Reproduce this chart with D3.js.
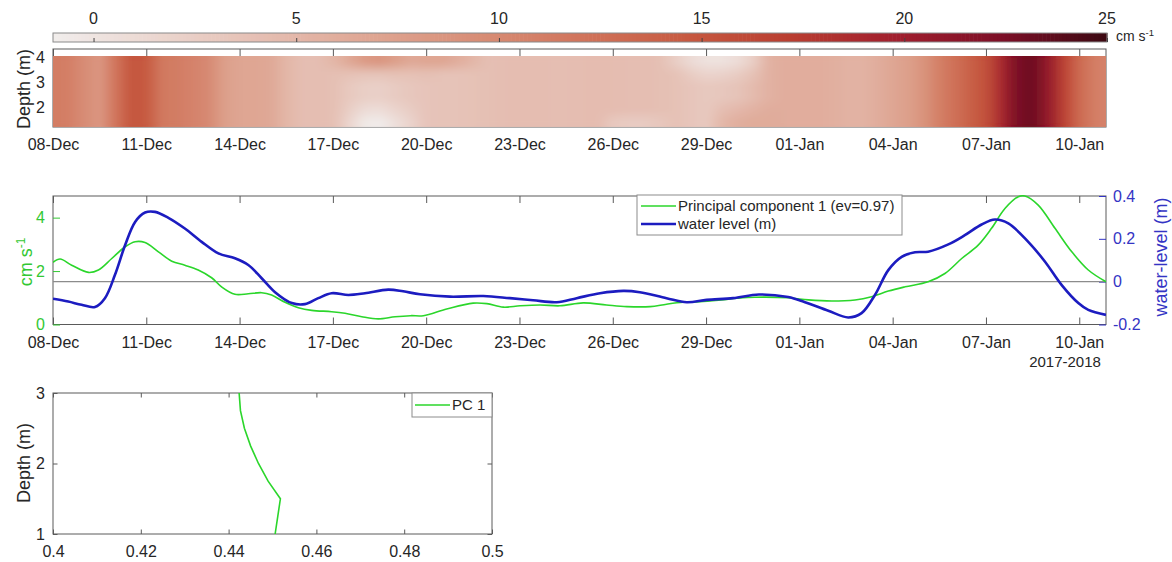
<!DOCTYPE html>
<html>
<head>
<meta charset="utf-8">
<script src="https://cdn.jsdelivr.net/npm/d3@7"></script>
<style>
  body { margin: 0; background: #fff; }
  svg { display: block; font-family: "Liberation Sans", Arial, Helvetica, sans-serif; }
</style>
</head>
<body>
<svg id="fig" width="1172" height="562"></svg>
<script>
// ---------------- data ----------------
// time axis: days since 08-Dec-2017 00:00 UTC
const startDate = Date.UTC(2017, 11, 8);
const endDay = 33.86;
const dateTicks = ["2017-12-08", "2017-12-11", "2017-12-14", "2017-12-17", "2017-12-20",
  "2017-12-23", "2017-12-26", "2017-12-29", "2018-01-01", "2018-01-04", "2018-01-07", "2018-01-10"];

// current speed (cm s-1), half-day grid starting at day 0, one row per depth bin
const gridStep = 0.5;
const depthBins = [1.44, 1.91, 2.39, 2.86, 3.34, 3.81];
const speedBin1 = [11.2, 11.0, 9.5, 8.4, 12.0, 15.0, 14.5, 11.5, 11.2, 10.5,
  9.8, 7.5, 6.8, 6.8, 6.5, 5.0, 4.2, 4.2, 4.0, 1.8,
  -0.5, -0.8, 0.6, 2.0, 3.5, 3.7, 3.7, 3.8, 4.0, 4.2,
  4.3, 4.3, 4.2, 4.2, 4.3, 4.4, 3.0, 2.8, 2.8, 3.2,
  3.8, 3.4, 3.0, 5.0, 5.8, 6.2, 6.2, 6.0, 6.0, 6.0,
  5.8, 5.5, 5.4, 6.0, 6.8, 7.5, 8.9, 11.0, 12.5, 14.0,
  15.5, 19.0, 22.5, 23.0, 20.5, 16.5, 13.0, 11.0, 10.5];
const speedBin2 = [11.2, 11.0, 9.5, 8.4, 12.0, 15.0, 14.5, 11.5, 11.2, 10.5,
  9.8, 7.5, 6.8, 6.8, 6.5, 5.0, 4.2, 4.2, 4.0, 2.5,
  1.0, 0.8, 1.8, 2.7, 3.5, 3.7, 3.7, 3.8, 4.0, 4.2,
  4.3, 4.3, 4.2, 4.2, 4.3, 4.4, 4.3, 4.2, 4.2, 4.0,
  3.8, 3.4, 3.0, 4.2, 4.8, 5.5, 6.0, 6.0, 6.0, 6.0,
  5.8, 5.5, 5.4, 6.0, 6.8, 7.5, 8.9, 11.0, 12.5, 14.0,
  15.5, 19.0, 22.5, 23.0, 20.5, 16.5, 13.0, 11.0, 10.5];
const speedBin3 = [11.2, 11.0, 9.5, 8.4, 12.0, 15.0, 14.5, 11.5, 11.2, 10.5,
  9.8, 7.5, 6.8, 6.8, 6.5, 5.0, 4.2, 4.2, 4.0, 3.0,
  2.4, 2.2, 2.8, 3.2, 3.5, 3.7, 3.7, 3.8, 4.0, 4.2,
  4.3, 4.3, 4.2, 4.2, 4.3, 4.4, 4.3, 4.2, 4.2, 4.0,
  3.8, 3.4, 3.0, 3.2, 3.6, 4.5, 5.5, 6.0, 6.0, 6.0,
  5.8, 5.5, 5.4, 6.0, 6.8, 7.5, 8.9, 11.0, 12.5, 14.0,
  15.5, 19.0, 22.5, 23.0, 20.5, 16.5, 13.0, 11.0, 10.5];
const speedBin4 = [11.2, 11.0, 9.5, 8.4, 12.0, 15.0, 14.5, 11.5, 11.2, 10.5,
  9.8, 7.5, 6.8, 6.8, 6.5, 5.0, 4.2, 4.2, 4.0, 3.0,
  2.4, 2.2, 2.8, 3.2, 3.5, 3.7, 3.7, 3.8, 4.0, 4.2,
  4.3, 4.3, 4.2, 4.2, 4.3, 4.4, 4.3, 4.2, 4.2, 4.0,
  3.8, 3.4, 3.0, 3.2, 3.6, 4.5, 5.5, 6.0, 6.0, 6.0,
  5.8, 5.5, 5.4, 6.0, 6.8, 7.5, 8.9, 11.0, 12.5, 14.0,
  15.5, 19.0, 22.5, 23.0, 20.5, 16.5, 13.0, 11.0, 10.5];
const speedBin5 = [11.2, 11.0, 9.5, 8.4, 12.0, 15.0, 14.5, 11.5, 11.2, 10.5,
  9.8, 7.5, 6.8, 6.8, 6.5, 5.0, 4.2, 4.2, 4.0, 3.8,
  3.6, 3.6, 3.8, 3.8, 4.0, 3.7, 3.7, 3.8, 4.0, 4.2,
  4.3, 4.3, 4.2, 4.2, 4.3, 4.4, 4.3, 4.2, 4.2, 4.0,
  3.8, 2.6, 1.8, 2.0, 2.6, 3.8, 5.5, 6.0, 6.0, 6.0,
  5.8, 5.5, 5.4, 6.0, 6.8, 7.5, 8.9, 11.0, 12.5, 14.0,
  15.5, 19.0, 22.5, 23.0, 20.5, 16.5, 13.0, 11.0, 10.5];
const speedBin6 = [11.2, 11.0, 9.5, 8.4, 12.0, 15.0, 14.5, 11.5, 11.2, 10.5,
  9.8, 7.5, 6.8, 6.8, 6.5, 5.0, 4.2, 4.2, 5.0, 6.5,
  8.0, 8.5, 7.5, 6.5, 6.8, 6.8, 6.0, 5.0, 4.0, 4.2,
  4.3, 4.3, 4.2, 4.2, 4.3, 4.4, 4.3, 4.2, 4.2, 4.0,
  2.5, 1.0, 0.3, 0.3, 0.8, 2.5, 5.5, 6.0, 6.0, 6.0,
  5.8, 5.5, 5.4, 6.0, 6.8, 7.5, 8.9, 11.0, 12.5, 14.0,
  15.5, 19.0, 22.5, 23.0, 20.5, 16.5, 13.0, 11.0, 10.5];
const speedRows = [speedBin1, speedBin2, speedBin3, speedBin4, speedBin5, speedBin6];

// colour bar
const colorRange = [-1, 25];
const colorTicks = [0, 5, 10, 15, 20, 25];
const ampStops = ["#f1edec", "#ebd6cf", "#e5beb2", "#dfa693", "#d88e77", "#d1755c",
  "#c75a41", "#b93d30", "#a11f2e", "#7d0f27", "#3c0912"];

// principal component 1 amplitude (cm s-1)
const pcDays = [0, 0.23, 0.6, 1.14, 1.46, 1.89, 2.32, 2.64, 2.96, 3.39,
  3.82, 4.24, 4.67, 5.10, 5.42, 5.85, 6.28, 6.71, 7.03, 7.46,
  7.89, 8.32, 8.96, 9.39, 9.93, 10.46, 11.0, 11.5, 11.91, 12.66,
  13.51, 13.95, 14.48, 15.02, 15.66, 16.30, 17.05, 17.80, 18.45, 19.2,
  19.73, 20.27, 20.8, 21.5, 22.0, 22.57, 23.64, 24.29, 25.04, 25.79,
  26.32, 26.86, 27.40, 28.14, 28.68, 29.22, 29.75, 30.18, 30.61, 31.04,
  31.25, 31.68, 32.22, 32.76, 33.29, 33.86];
const pcValues = [2.33, 2.45, 2.22, 1.95, 2.04, 2.47, 2.91, 3.10, 3.07, 2.72,
  2.37, 2.22, 2.04, 1.75, 1.41, 1.13, 1.15, 1.19, 1.10, 0.83,
  0.63, 0.53, 0.48, 0.42, 0.29, 0.21, 0.29, 0.33, 0.33, 0.58,
  0.80, 0.78, 0.65, 0.70, 0.73, 0.70, 0.81, 0.73, 0.67, 0.67,
  0.76, 0.83, 0.85, 0.92, 0.98, 1.02, 1.00, 0.92, 0.88, 0.92,
  1.04, 1.25, 1.41, 1.60, 1.91, 2.47, 2.97, 3.60, 4.34, 4.78,
  4.81, 4.47, 3.60, 2.72, 2.04, 1.60];

// water level (m)
const wlDays = [0, 0.49, 0.92, 1.35, 1.67, 1.99, 2.32, 2.64, 2.96, 3.28,
  3.71, 4.24, 4.78, 5.32, 5.85, 6.28, 6.71, 7.14, 7.68, 8.10,
  8.53, 8.96, 9.50, 10.03, 10.78, 11.26, 11.8, 12.77, 13.84, 14.69,
  15.44, 16.2, 16.84, 17.59, 18.34, 18.87, 19.73, 20.38, 21.02, 21.87,
  22.7, 23.64, 24.18, 24.93, 25.57, 26.0, 26.43, 26.86, 27.29, 27.72,
  28.14, 28.79, 29.32, 29.86, 30.29, 30.72, 31.36, 31.9, 32.43, 32.97,
  33.29, 33.86];
const wlValues = [-0.080, -0.093, -0.108, -0.118, -0.077, 0.031, 0.171, 0.279, 0.323, 0.326,
  0.298, 0.248, 0.186, 0.132, 0.109, 0.078, 0.016, -0.049, -0.100, -0.105,
  -0.077, -0.054, -0.062, -0.054, -0.037, -0.045, -0.059, -0.070, -0.067, -0.077,
  -0.087, -0.096, -0.077, -0.054, -0.043, -0.049, -0.077, -0.096, -0.085, -0.077,
  -0.060, -0.072, -0.096, -0.136, -0.167, -0.147, -0.062, 0.054, 0.116, 0.137,
  0.140, 0.174, 0.217, 0.267, 0.290, 0.272, 0.186, 0.093, -0.015, -0.100,
  -0.132, -0.155];
const pcTicks = [0, 2, 4];
const wlTicks = [-0.2, 0, 0.2, 0.4];

// vertical structure of PC 1
const profileDepth = [1, 1.25, 1.5, 1.75, 2, 2.25, 2.5, 2.75, 3];
const profileValue = [0.4506, 0.4512, 0.4518, 0.4490, 0.4468, 0.4450, 0.4436, 0.4427, 0.4424];
const profileXTicks = [0.4, 0.42, 0.44, 0.46, 0.48, 0.5];
const profileYTicks = [1, 2, 3];

// ---------------- drawing ----------------
const AX = "#5a5a5a", TXT = "#262626";
const GREEN = "#2bd62b", BLUE = "#1c1cc0";
const GREEN_TXT = "#33c833", BLUE_TXT = "#3434c4";
const TICK_FS = 16, LABEL_FS = 18, LEG_FS = 15;

const svg = d3.select("#fig");
svg.append("rect").attr("width", 1172).attr("height", 562).attr("fill", "#fff");
const defs = svg.append("defs");

// soft blur for the speed raster; the sharp copy underneath keeps the edges opaque
const blur = defs.append("filter").attr("id", "soften")
  .attr("x", "-2%").attr("y", "-10%").attr("width", "104%").attr("height", "120%");
blur.append("feGaussianBlur").attr("in", "SourceGraphic").attr("stdDeviation", "4 2.5").attr("result", "b");
const merge = blur.append("feMerge");
merge.append("feMergeNode").attr("in", "SourceGraphic");
merge.append("feMergeNode").attr("in", "b");

const toDate = d => new Date(startDate + d * 864e5);
const x = d3.scaleUtc().domain([toDate(0), toDate(endDay)]).range([53, 1106]);
const tickDates = dateTicks.map(s => new Date(s + "T00:00:00Z"));
const fmtDate = d3.utcFormat("%d-%b");
const fmtNum = v => String(v);

function styleAxis(g, color, textColor) {
  g.select(".domain").remove();
  g.selectAll(".tick line").attr("stroke", color).attr("stroke-width", 1);
  g.selectAll(".tick text").attr("fill", textColor).attr("font-size", TICK_FS)
    .attr("font-family", "Liberation Sans, Arial, sans-serif");
}

// ===== colour bar =====
const cScale = d3.scaleLinear()
  .domain(ampStops.map((c, i) => colorRange[0] + (colorRange[1] - colorRange[0]) * i / (ampStops.length - 1)))
  .range(ampStops).interpolate(d3.interpolateRgb).clamp(true);
const cb = d3.scaleLinear().domain(colorRange).range([53, 1107]);
const cbTop = 33, cbBot = 42;
const cbSteps = d3.range(colorRange[0], colorRange[1], 0.1);
svg.append("g").selectAll("rect").data(cbSteps).join("rect")
  .attr("x", v => cb(v)).attr("width", v => cb(v + 0.1) - cb(v) + 0.6)
  .attr("y", cbTop).attr("height", cbBot - cbTop)
  .attr("fill", v => cScale(v + 0.05));
svg.append("rect").attr("x", cb(colorRange[0])).attr("y", cbTop)
  .attr("width", cb(colorRange[1]) - cb(colorRange[0])).attr("height", cbBot - cbTop)
  .attr("fill", "none").attr("stroke", "#8a8a8a").attr("stroke-width", 1);
const cbAxis = svg.append("g").attr("transform", `translate(0,${cbBot})`)
  .call(d3.axisTop(cb).tickValues(colorTicks).tickSizeInner(4).tickSizeOuter(0).tickFormat(() => ""));
styleAxis(cbAxis, "#444", TXT);
svg.append("g").selectAll("text").data(colorTicks).join("text")
  .attr("x", v => cb(v)).attr("y", 24).attr("text-anchor", "middle")
  .attr("font-size", TICK_FS).attr("fill", TXT).text(fmtNum);
const cbUnit = svg.append("text").attr("x", 1116).attr("y", 41).attr("font-size", 14).attr("fill", TXT);
cbUnit.append("tspan").text("cm s");
cbUnit.append("tspan").attr("dy", -5).attr("font-size", 9.5).text("-1");

// ===== panel 1: speed vs time and depth =====
const yDep = d3.scaleLinear().domain([1.2, 4.32]).range([127, 49]);
const p1 = svg.append("g");
// axes layer sits below the image
p1.append("rect").attr("x", 53).attr("y", yDep(4.32)).attr("width", 1106 - 53)
  .attr("height", yDep(1.2) - yDep(4.32)).attr("fill", "none").attr("stroke", AX);
const p1Top = p1.append("g").attr("transform", `translate(0,${yDep(4.32)})`)
  .call(d3.axisTop(x).tickValues(tickDates).tickSizeInner(-7).tickSizeOuter(0).tickFormat(() => ""));
styleAxis(p1Top, AX, TXT);

// speed field rendered as a smoothly scaled raster
const nT = speedBin1.length, nZ = depthBins.length;
const canvas = document.createElement("canvas");
canvas.width = nT; canvas.height = nZ;
const ctx = canvas.getContext("2d");
speedRows.forEach((row, j) => {
  row.forEach((v, i) => {
    ctx.fillStyle = cScale(v);
    ctx.fillRect(i, nZ - 1 - j, 1, 1);
  });
});
const dz = depthBins[1] - depthBins[0];
const imgTop = depthBins[nZ - 1] + dz / 2, imgBot = depthBins[0] - dz / 2;
defs.append("clipPath").attr("id", "clipSpeed").append("rect")
  .attr("x", 53).attr("y", yDep(imgTop)).attr("width", 1106 - 53).attr("height", yDep(imgBot) - yDep(imgTop));
p1.append("g").attr("clip-path", "url(#clipSpeed)")
  .append("image")
  .attr("href", canvas.toDataURL())
  .attr("x", x(toDate(-gridStep / 2)))
  .attr("width", x(toDate((nT - 1) * gridStep + gridStep / 2)) - x(toDate(-gridStep / 2)))
  .attr("y", yDep(imgTop)).attr("height", yDep(imgBot) - yDep(imgTop))
  .attr("preserveAspectRatio", "none")
  .attr("filter", "url(#soften)");

const p1X = p1.append("g").attr("transform", "translate(0,127)")
  .call(d3.axisBottom(x).tickValues(tickDates).tickSize(0).tickPadding(12).tickFormat(fmtDate));
styleAxis(p1X, AX, TXT);
const p1Y = p1.append("g").attr("transform", "translate(53,0)")
  .call(d3.axisLeft(yDep).tickValues([2, 3, 4]).tickSize(0).tickPadding(8).tickFormat(fmtNum));
styleAxis(p1Y, AX, TXT);
p1.append("text").attr("transform", "translate(30,89) rotate(-90)").attr("text-anchor", "middle")
  .attr("font-size", LABEL_FS).attr("fill", TXT).text("Depth (m)");

// ===== panel 2: PC1 amplitude and water level =====
const yL = d3.scaleLinear().domain([0, 4.81]).range([324.5, 196]);
const yR = d3.scaleLinear().domain([-0.2, 0.4]).range([324.5, 196]);
const p2 = svg.append("g");
p2.append("rect").attr("x", 53).attr("y", 196).attr("width", 1106 - 53).attr("height", 324.5 - 196)
  .attr("fill", "none").attr("stroke", AX);
const p2Bot = p2.append("g").attr("transform", "translate(0,324.5)")
  .call(d3.axisBottom(x).tickValues(tickDates).tickSizeInner(-7).tickSizeOuter(0).tickPadding(12).tickFormat(fmtDate));
styleAxis(p2Bot, AX, TXT);
const p2Top = p2.append("g").attr("transform", "translate(0,196)")
  .call(d3.axisTop(x).tickValues(tickDates).tickSizeInner(-7).tickSizeOuter(0).tickFormat(() => ""));
styleAxis(p2Top, AX, TXT);
const p2L = p2.append("g").attr("transform", "translate(53,0)")
  .call(d3.axisLeft(yL).tickValues(pcTicks).tickSizeInner(-7).tickSizeOuter(0).tickPadding(8).tickFormat(fmtNum));
styleAxis(p2L, GREEN_TXT, GREEN_TXT);
const p2R = p2.append("g").attr("transform", "translate(1106,0)")
  .call(d3.axisRight(yR).tickValues(wlTicks).tickSizeInner(-7).tickSizeOuter(0).tickPadding(7).tickFormat(fmtNum));
styleAxis(p2R, BLUE_TXT, BLUE_TXT);
p2.append("line").attr("x1", 53).attr("x2", 1106).attr("y1", yR(0)).attr("y2", yR(0))
  .attr("stroke", "#8c8c8c").attr("stroke-width", 1.2);

defs.append("clipPath").attr("id", "clipP2").append("rect")
  .attr("x", 53).attr("y", 195).attr("width", 1106 - 53).attr("height", 324.5 - 195);
const pcLine = d3.line().x(d => x(toDate(d[0]))).y(d => yL(d[1])).curve(d3.curveCatmullRom.alpha(0.5));
const wlLine = d3.line().x(d => x(toDate(d[0]))).y(d => yR(d[1])).curve(d3.curveCatmullRom.alpha(0.5));
p2.append("path").datum(d3.zip(pcDays, pcValues)).attr("d", pcLine)
  .attr("fill", "none").attr("stroke", GREEN).attr("stroke-width", 1.6).attr("clip-path", "url(#clipP2)");
p2.append("path").datum(d3.zip(wlDays, wlValues)).attr("d", wlLine)
  .attr("fill", "none").attr("stroke", BLUE).attr("stroke-width", 2.6).attr("clip-path", "url(#clipP2)");

const lab2 = p2.append("text").attr("transform", "translate(32,262) rotate(-90)").attr("text-anchor", "middle")
  .attr("font-size", LABEL_FS).attr("fill", GREEN_TXT);
lab2.append("tspan").text("cm s");
lab2.append("tspan").attr("dy", -7).attr("font-size", 12).text("-1");
p2.append("text").attr("transform", "translate(1167,257) rotate(-90)").attr("text-anchor", "middle")
  .attr("font-size", LABEL_FS).attr("fill", BLUE_TXT).text("water-level (m)");
p2.append("text").attr("x", 1065).attr("y", 367).attr("text-anchor", "middle")
  .attr("font-size", 15).attr("fill", TXT).text("2017-2018");

// legend
const lg = p2.append("g");
lg.append("rect").attr("x", 637).attr("y", 195).attr("width", 902 - 637).attr("height", 40)
  .attr("fill", "#fff").attr("stroke", "#8c8c8c");
lg.append("line").attr("x1", 641).attr("x2", 676).attr("y1", 206).attr("y2", 206)
  .attr("stroke", GREEN).attr("stroke-width", 1.6);
lg.append("text").attr("x", 678).attr("y", 211).attr("font-size", LEG_FS).attr("fill", TXT)
  .text("Principal component 1 (ev=0.97)");
lg.append("line").attr("x1", 641).attr("x2", 676).attr("y1", 224).attr("y2", 224)
  .attr("stroke", BLUE).attr("stroke-width", 2.6);
lg.append("text").attr("x", 678).attr("y", 229).attr("font-size", LEG_FS).attr("fill", TXT)
  .text("water level (m)");

// ===== panel 3: PC1 vertical structure =====
const xP = d3.scaleLinear().domain([0.4, 0.5]).range([53, 492]);
const yP = d3.scaleLinear().domain([1, 3]).range([534, 393]);
const p3 = svg.append("g");
p3.append("rect").attr("x", 53).attr("y", 393).attr("width", 492 - 53).attr("height", 534 - 393)
  .attr("fill", "none").attr("stroke", AX);
const p3B = p3.append("g").attr("transform", "translate(0,534)")
  .call(d3.axisBottom(xP).tickValues(profileXTicks).tickSizeInner(-4.5).tickSizeOuter(0).tickPadding(12).tickFormat(fmtNum));
styleAxis(p3B, AX, TXT);
const p3T = p3.append("g").attr("transform", "translate(0,393)")
  .call(d3.axisTop(xP).tickValues(profileXTicks).tickSizeInner(-4.5).tickSizeOuter(0).tickFormat(() => ""));
styleAxis(p3T, AX, TXT);
const p3L = p3.append("g").attr("transform", "translate(53,0)")
  .call(d3.axisLeft(yP).tickValues(profileYTicks).tickSizeInner(-4.5).tickSizeOuter(0).tickPadding(8).tickFormat(fmtNum));
styleAxis(p3L, AX, TXT);
const p3R = p3.append("g").attr("transform", "translate(492,0)")
  .call(d3.axisRight(yP).tickValues(profileYTicks).tickSizeInner(-4.5).tickSizeOuter(0).tickFormat(() => ""));
styleAxis(p3R, AX, TXT);
p3.append("path").datum(d3.zip(profileValue, profileDepth))
  .attr("d", d3.line().x(d => xP(d[0])).y(d => yP(d[1])))
  .attr("fill", "none").attr("stroke", GREEN).attr("stroke-width", 1.6);
p3.append("text").attr("transform", "translate(30,463) rotate(-90)").attr("text-anchor", "middle")
  .attr("font-size", LABEL_FS).attr("fill", TXT).text("Depth (m)");
const lg3 = p3.append("g");
lg3.append("rect").attr("x", 412).attr("y", 393).attr("width", 80).attr("height", 24)
  .attr("fill", "#fff").attr("stroke", "#8c8c8c");
lg3.append("line").attr("x1", 415).attr("x2", 450).attr("y1", 405).attr("y2", 405)
  .attr("stroke", GREEN).attr("stroke-width", 1.6);
lg3.append("text").attr("x", 452).attr("y", 410).attr("font-size", LEG_FS).attr("fill", TXT).text("PC 1");
</script>
</body>
</html>
